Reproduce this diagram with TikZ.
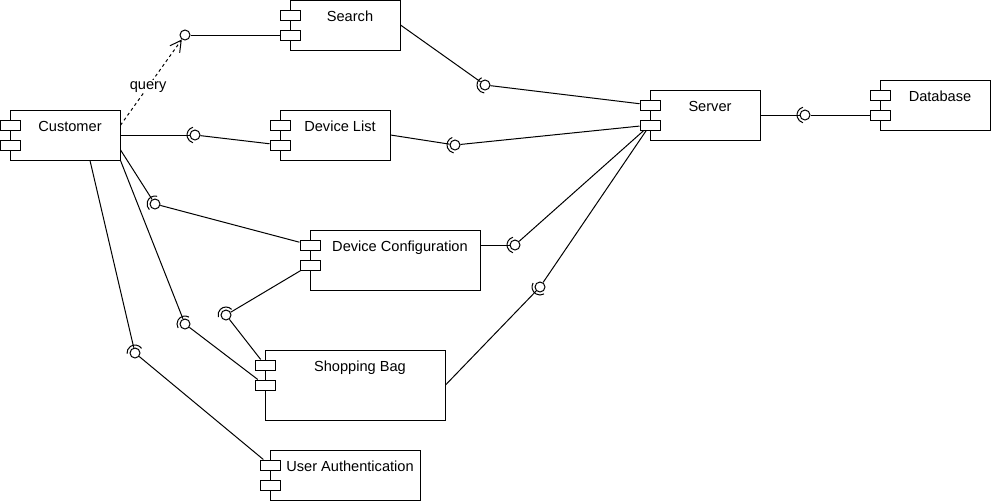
\documentclass[tikz,border=0pt]{standalone}
\usepackage{fontspec}
\setmainfont{Liberation Sans}
\usetikzlibrary{arrows.meta}
\tikzset{
  comp/.style={draw,fill=white,inner sep=0pt},
  port/.style={draw,fill=white,minimum width=20pt,minimum height=10pt,inner sep=0pt},
  lbl/.style={anchor=base,inner sep=0pt,font=\fontsize{14.6}{17}\selectfont},
  ball/.style={draw,circle,fill=white,minimum size=10pt,inner sep=0pt},
}
\begin{document}
\begin{tikzpicture}[x=1pt,y=-1pt,line width=1pt]
  \useasboundingbox (0,0) rectangle (991,501);
  % component boxes
  \node[comp,minimum width=110pt,minimum height=50pt] (cust)  at (65,135)  {};
  \node[comp,minimum width=110pt,minimum height=50pt] (srch)  at (345,25)  {};
  \node[comp,minimum width=110pt,minimum height=50pt] (dlist) at (335,135) {};
  \node[comp,minimum width=110pt,minimum height=50pt] (srv)   at (705,115) {};
  \node[comp,minimum width=110pt,minimum height=50pt] (db)    at (935,105) {};
  \node[comp,minimum width=170pt,minimum height=60pt] (dconf) at (395,260) {};
  \node[comp,minimum width=180pt,minimum height=70pt] (bag)   at (355,385) {};
  \node[comp,minimum width=150pt,minimum height=50pt] (auth)  at (345,475) {};
  % names
  \node[lbl] (cust-t)  at (70,131)  {Customer};
  \node[lbl] (srch-t)  at (350,21)  {Search};
  \node[lbl] (dlist-t) at (340,131) {Device List};
  \node[lbl] (srv-t)   at (710,111) {Server};
  \node[lbl] (db-t)    at (940,101) {Database};
  \node[lbl] (dconf-t) at (400,251) {Device Configuration};
  \node[lbl] (bag-t)   at (360,371) {Shopping Bag};
  \node[lbl] (auth-t)  at (350,471) {User Authentication};
  % two ports on the left side of every box
  \foreach \c/\x/\y in {cust/10/110, srch/290/0, dlist/280/110, srv/650/90,
                        db/880/80, dconf/310/230, bag/265/350, auth/270/450} {
    \node[port] (\c-p1) at (\x,\y+15) {};
    \node[port] (\c-p2) at (\x,\y+35) {};
  }
  % interfaces: ball, and socket arc facing angle \a
  \node[ball] (i1) at (185,35) {};
  \foreach \n/\x/\y/\a in {i2/485/85/190, i3/455/145/185, i4/195/135/180,
                           i5/805/115/180, i6/155/204/150, i7/515/245/180,
                           i8/540/287/225, i9/226/315/120, i10/185/324/135,
                           i11/135/353/110} {
    \node[ball] (\n) at (\x,\y) {};
    \draw ([shift={(\a-75:8pt)}]\n.center) arc[start angle=\a-75,end angle=\a+75,radius=8pt];
  }
  % query dependency
  \draw[dash pattern=on 3pt off 3pt,-{Straight Barb[length=11pt,width=12pt]}]
    (cust.10) -- node[pos=0.45,fill=white,inner sep=1pt,font=\fontsize{14.6}{17}\selectfont] (qry) {query} (i1);
  \draw (i1) -- (srch-p2);
  % links through the interfaces
  \draw (srch.east) -- (i2);  \draw (i2) -- (srv-p1);
  \draw (dlist.east) -- (i3); \draw (i3) -- (srv-p2);
  \draw (cust.east) -- (i4);  \draw (i4) -- (dlist-p2);
  \draw (srv.east) -- (i5);   \draw (i5) -- (db-p2);
  \draw (cust.-15) -- (i6);   \draw (i6) -- (dconf-p1);
  \draw ([yshift=15pt]dconf.east) -- (i7); \draw (i7) -- (srv-p2);
  \draw (bag.east) -- (i8);   \draw (i8) -- (srv-p2);
  \draw (dconf-p2) -- (i9);   \draw (i9) -- (bag-p1);
  \draw (cust.south east) -- (i10); \draw (i10) -- (bag-p2);
  \draw ([xshift=25pt]cust.south) -- (i11); \draw (i11) -- (auth-p1);
\end{tikzpicture}
\end{document}
